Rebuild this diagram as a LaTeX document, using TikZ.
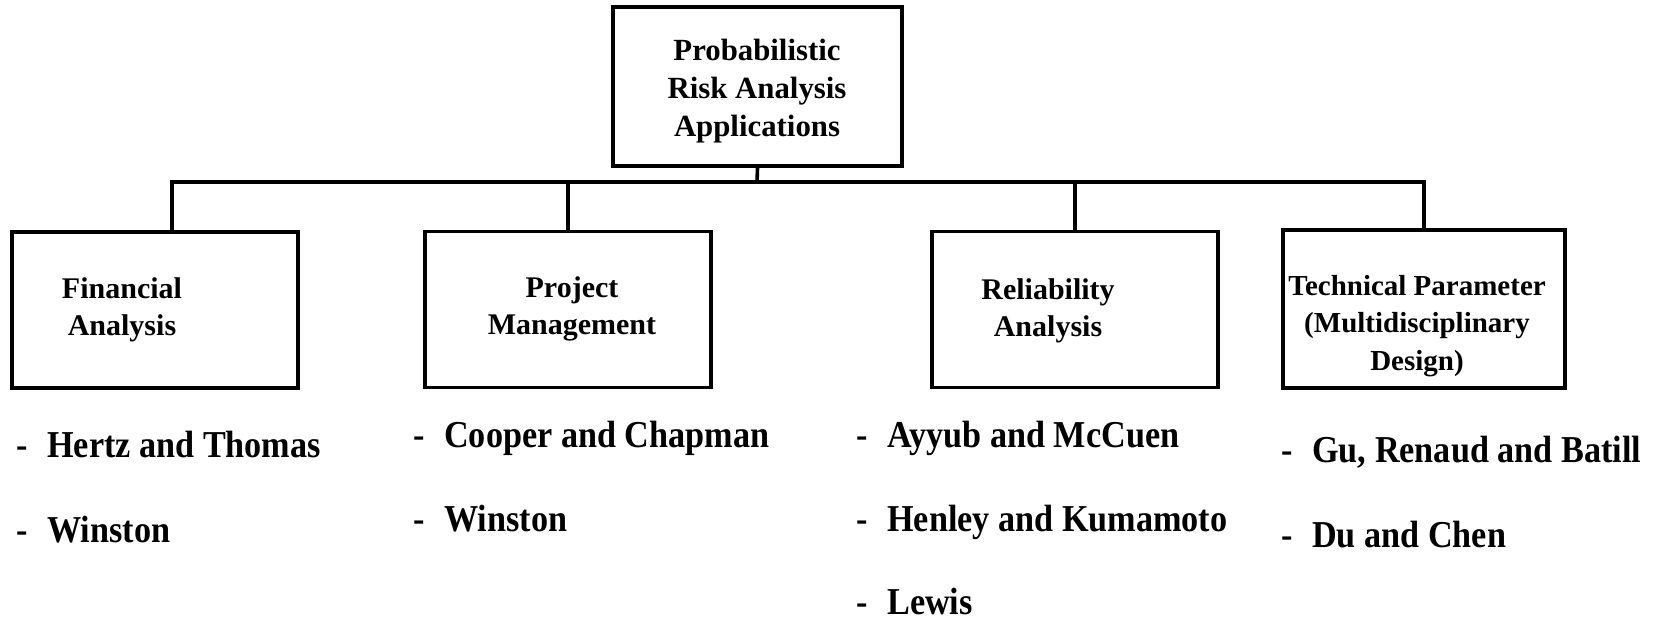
\documentclass[tikz,border=0pt]{standalone}
\usepackage{fontspec}
\setmainfont{Liberation Serif}
\newfontfamily\namefont[FakeStretch=0.9]{Liberation Serif}
\usetikzlibrary{positioning,calc}

\begin{document}
\begin{tikzpicture}[x=0.5pt,y=-0.5pt]
    \tikzset{box/.style = {draw, line width=1.8pt, inner sep=0pt, minimum width=143pt, minimum height=78pt}}
    \tikzset{head/.style = {align=center, inner sep=0pt, font=\bfseries\fontsize{15pt}{18.8pt}\selectfont}}
    \tikzset{wire/.style = {line width=1.8pt}}
    \tikzset{item/.style = {anchor=base west, inner sep=0pt, font=\namefont\bfseries\fontsize{19pt}{22pt}\selectfont}}
    \useasboundingbox (0,0) rectangle (1663,620);
    \node[box, minimum width=144.5pt, minimum height=79.5pt] (root) at (757.5,86.5) {};
    \node[box] (fin) at (155,310) {};
    \node[box] (proj) at (568,309.5) {};
    \node[box] (rel) at (1075,309.5) {};
    \node[box, minimum width=141pt, minimum height=79pt] (tech) at (1424,309) {};
    \node[head, font=\bfseries\fontsize{15.4pt}{18.8pt}\selectfont] (roottxt) at (757,91) {Probabilistic\\Risk Analysis\\Applications};
    \node[head] (fintxt) at (122,310) {Financial\\Analysis};
    \node[head] (projtxt) at (572,309) {Project\\Management};
    \node[head] (reltxt) at (1048,311) {Reliability\\Analysis};
    \node[head, font=\bfseries\fontsize{14.5pt}{18.8pt}\selectfont] (techtxt) at (1417,326) {Technical Parameter\\(Multidisciplinary\\Design)};
    \coordinate (bus) at (757,182);
    \draw[wire] (root.south) -- (bus);
    \draw[wire] ([xshift=8.5pt]fin.north) |- (bus) -| (tech.north);
    \draw[wire] (proj.north) -- (proj.north |- bus);
    \draw[wire] (rel.north) -- (rel.north |- bus);
    \node[item] (fin1) at (16.5,457) {-\enspace Hertz and Thomas};
    \node[item] (fin2) at (16.5,542) {-\enspace Winston};
    \node[item] (proj1) at (413.5,447) {-\enspace Cooper and Chapman};
    \node[item] (proj2) at (413.5,531) {-\enspace Winston};
    \node[item] (rel1) at (856.5,447) {-\enspace Ayyub and McCuen};
    \node[item] (rel2) at (856.5,531) {-\enspace Henley and Kumamoto};
    \node[item] (rel3) at (856.5,614) {-\enspace Lewis};
    \node[item] (tech1) at (1281.5,462) {-\enspace Gu, Renaud and Batill};
    \node[item] (tech2) at (1281.5,547) {-\enspace Du and Chen};
\end{tikzpicture}
\end{document}
